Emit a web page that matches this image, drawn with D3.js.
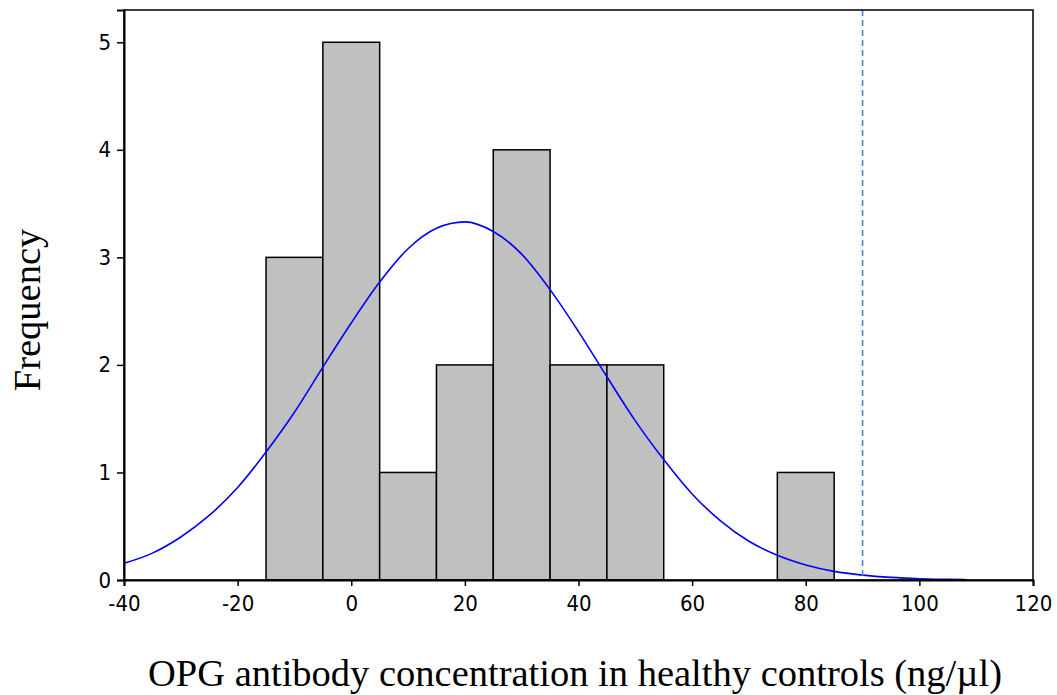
<!DOCTYPE html>
<html>
<head>
<meta charset="utf-8">
<script src="https://cdn.jsdelivr.net/npm/d3@7"></script>
<style>
  body { margin: 0; background: #fff; }
  .title { font-family: "Liberation Serif", "Times New Roman", serif; font-size: 38.5px; fill: #000; }
</style>
</head>
<body>
<div id="chart"></div>
<script>
// histogram bins (centres) and counts
const binCenters = [-10, 0, 10, 20, 30, 40, 50, 60, 70, 80];
const counts = [3, 5, 1, 2, 4, 2, 2, 0, 0, 1];
const binWidth = 10;

// fitted curve
const curveX = [-40, -35, -30, -25, -20, -15, -10, -5, 0, 5, 10, 15, 20, 25, 30, 35, 40, 45, 50, 55, 60, 65, 70, 75, 80, 85, 90, 95, 100, 105, 108];
const curveY = [0.155, 0.25, 0.40, 0.60, 0.86, 1.19, 1.56, 1.98, 2.39, 2.77, 3.08, 3.27, 3.33, 3.24, 3.03, 2.70, 2.31, 1.89, 1.48, 1.12, 0.80, 0.55, 0.36, 0.23, 0.14, 0.08, 0.045, 0.024, 0.012, 0.006, 0.003];

const xTicks = [-40, -20, 0, 20, 40, 60, 80, 100, 120];
const yTicks = [0, 1, 2, 3, 4, 5];
const refLine = 90;

const W = 1057, H = 695;
const margin = { top: 10, right: 24, bottom: 115, left: 124 };
const width = W - margin.left - margin.right;
const height = H - margin.top - margin.bottom;

const svg = d3.select('#chart').append('svg')
  .attr('width', W).attr('height', H);
const g = svg.append('g').attr('transform', `translate(${margin.left},${margin.top})`);

const x = d3.scaleLinear().domain([-40, 120]).range([0, width]);
const y = d3.scaleLinear().domain([0, 5.3]).range([height, 0]);

// bars
g.selectAll('rect.bar')
  .data(binCenters.map((c, i) => ({ c, n: counts[i] })).filter(d => d.n > 0))
  .enter().append('rect')
  .attr('class', 'bar')
  .attr('x', d => x(d.c - binWidth / 2))
  .attr('width', d => x(d.c + binWidth / 2) - x(d.c - binWidth / 2))
  .attr('y', d => y(d.n))
  .attr('height', d => y(0) - y(d.n))
  .attr('fill', '#c0c0c0')
  .attr('stroke', '#000')
  .attr('stroke-width', 1.5);

// curve
g.append('path')
  .datum(curveX.map((v, i) => [v, curveY[i]]))
  .attr('fill', 'none')
  .attr('stroke', '#0000ff')
  .attr('stroke-width', 1.6)
  .attr('d', d3.line().x(d => x(d[0])).y(d => y(d[1])).curve(d3.curveMonotoneX));

// reference line
g.append('line')
  .attr('x1', x(refLine)).attr('x2', x(refLine))
  .attr('y1', 0).attr('y2', height)
  .attr('stroke', '#4a86c8')
  .attr('stroke-width', 1.6)
  .attr('stroke-dasharray', '6,4');

// frame
g.append('rect')
  .attr('x', 0).attr('y', 0).attr('width', width).attr('height', height)
  .attr('fill', 'none').attr('stroke', '#000').attr('stroke-width', 1.5);

// axes
const xAxis = g.append('g')
  .attr('transform', `translate(0,${height})`)
  .call(d3.axisBottom(x).tickValues(xTicks).tickSize(6).tickPadding(9).tickFormat(d => String(d)));
const yAxis = g.append('g')
  .call(d3.axisLeft(y).tickValues(yTicks).tickSize(7).tickPadding(6).tickFormat(d => String(d)));
[xAxis, yAxis].forEach(a => {
  a.attr('font-size', null).attr('font-family', null);
  a.select('.domain').attr('stroke', '#000').attr('stroke-width', 2);
  a.selectAll('.tick line').attr('stroke', '#000').attr('stroke-width', 1.5);
  a.selectAll('.tick text')
    .attr('fill', '#000')
    .style('font-family', '"DejaVu Sans Condensed", "DejaVu Sans", sans-serif')
    .style('font-size', '22px');
});

// titles
svg.append('text').attr('class', 'title')
  .attr('x', 575).attr('y', 686)
  .attr('text-anchor', 'middle')
  .text('OPG antibody concentration in healthy controls (ng/µl)');
svg.append('text').attr('class', 'title')
  .attr('transform', `translate(40,310) rotate(-90)`)
  .attr('text-anchor', 'middle')
  .text('Frequency');
</script>
</body>
</html>
